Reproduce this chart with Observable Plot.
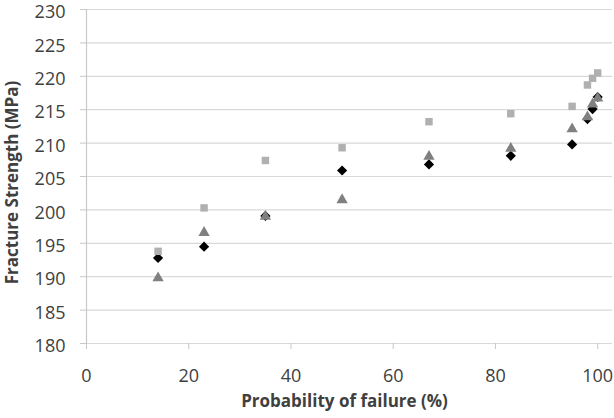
<!DOCTYPE html>
<html>
<head>
<meta charset="utf-8">
<script src="https://cdn.jsdelivr.net/npm/d3@7"></script>
<script src="https://cdn.jsdelivr.net/npm/@observablehq/plot@0.6"></script>
<style>
  html, body { margin: 0; padding: 0; background: #fff; }
  #chart svg { display: block; }
</style>
</head>
<body>
<div id="chart"></div>
<script>
const probability = [14, 23, 35, 50, 67, 83, 95, 98, 99, 100];
const seriesDiamond = [192.8, 194.5, 199.1, 205.9, 206.8, 208.1, 209.8, 213.6, 215.1, 216.9];
const seriesTriangle = [189.8, 196.6, 199.0, 201.5, 208.0, 209.2, 212.1, 213.9, 215.8, 216.7];
const seriesSquare = [193.8, 200.3, 207.4, 209.3, 213.2, 214.4, 215.5, 218.7, 219.7, 220.5];
const xTicks = [0, 20, 40, 60, 80, 100];
const yTicks = [180, 185, 190, 195, 200, 205, 210, 215, 220, 225, 230];
const xTitle = "Probability of failure (%)";
const yTitle = "Fracture Strength (MPa)";

const toRows = (vals) => probability.map((p, i) => ({p, v: vals[i]}));
const font = "'Open Sans', sans-serif";
const textColor = "#404040";

const chart = Plot.plot({
  width: 614,
  height: 418,
  marginLeft: 86,
  marginRight: 2,
  marginTop: 9,
  marginBottom: 75,
  style: {fontFamily: font, background: "#fff"},
  x: {domain: [0, 102.9]},
  y: {domain: [180, 230]},
  marks: [
    Plot.ruleY(yTicks, {stroke: "#d9d9d9", strokeWidth: 1.2}),
    Plot.ruleX([0], {stroke: "#c8c8c8", strokeWidth: 1.2}),
    Plot.axisY({ticks: yTicks, tickSize: 6, stroke: "#c8c8c8", tickFormat: () => "", label: null}),
    Plot.text(yTicks, {y: d => d, frameAnchor: "left", dx: -21, dy: 3, textAnchor: "end", text: d => String(d), fontSize: 18, fill: textColor}),
    Plot.axisX({ticks: xTicks, tickSize: 6, tickPadding: 20, stroke: "#c8c8c8", fill: textColor, fontSize: 18, label: null}),
    Plot.dot(toRows(seriesDiamond), {x: "p", y: "v", symbol: "diamond2", r: 4.6, fill: "#000000", stroke: "none"}),
    Plot.dot(toRows(seriesTriangle), {x: "p", y: "v", symbol: "triangle", r: 4.2, fill: "#808080"}),
    Plot.dot(toRows(seriesSquare), {x: "p", y: "v", symbol: "square", r: 4.2, fill: "#b0b0b0"}),
    Plot.text([xTitle], {frameAnchor: "bottom", dy: 63, dx: -5, textAnchor: "middle", text: d => d, fontSize: 17, fontWeight: "bold", fill: textColor}),
    Plot.text([yTitle], {frameAnchor: "left", dx: -74, dy: 6, rotate: -90, textAnchor: "middle", text: d => d, fontSize: 17, fontWeight: "bold", fill: textColor})
  ]
});
document.getElementById("chart").appendChild(chart);
</script>
</body>
</html>
